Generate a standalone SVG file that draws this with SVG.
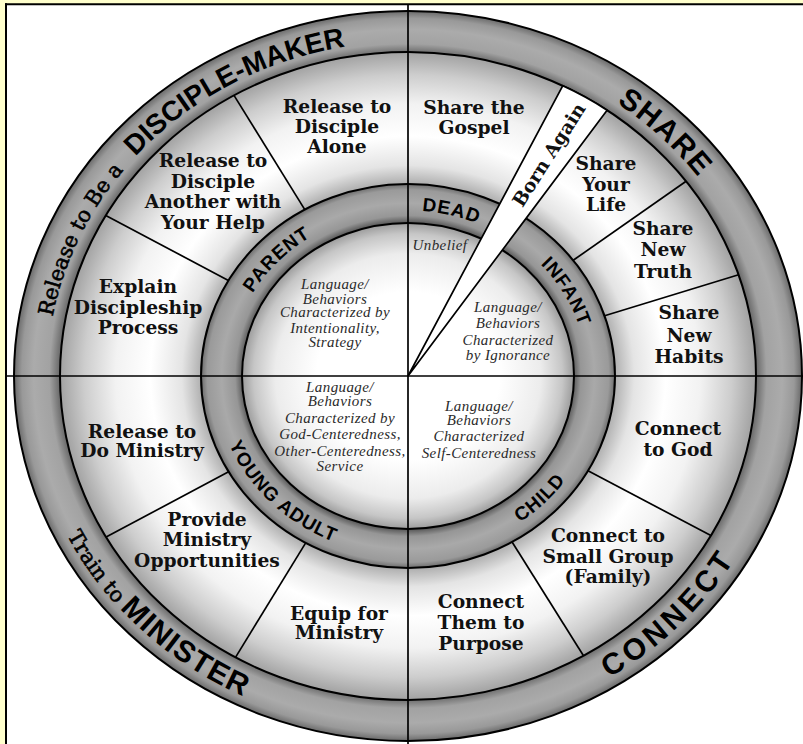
<svg xmlns="http://www.w3.org/2000/svg" width="803" height="744" viewBox="0 0 803 744">
<style>
.sec{font-family:"DejaVu Serif","Liberation Serif",serif;font-weight:bold;font-size:18.7px;fill:#111;text-anchor:middle}
.it{font-family:"Liberation Serif",serif;font-style:italic;font-size:15px;fill:#2a2a2a;text-anchor:middle;letter-spacing:0.4px}
.cap{font-family:"Liberation Sans",Arial,sans-serif;font-weight:bold;fill:#000}
.ser{font-family:"DejaVu Serif","Liberation Serif",serif;font-size:21px;fill:#000;stroke:#000;stroke-width:0.6px}
.ring{font-family:"Liberation Sans",Arial,sans-serif;font-weight:bold;font-size:19px;fill:#000;letter-spacing:0.9px}
.div{stroke:#000;stroke-width:1.7;fill:none}
.edge{stroke:#000;stroke-width:2}
</style>
<defs>
<radialGradient id="gOuter">
<stop offset="0.86" stop-color="#888"/>
<stop offset="0.883" stop-color="#666"/>
<stop offset="0.91" stop-color="#a2a2a2"/>
<stop offset="0.95" stop-color="#ababab"/>
<stop offset="0.98" stop-color="#999"/>
<stop offset="1" stop-color="#6a6a6a"/>
</radialGradient>
<radialGradient id="gRing">
<stop offset="0.78" stop-color="#777"/>
<stop offset="0.802" stop-color="#5e5e5e"/>
<stop offset="0.835" stop-color="#969696"/>
<stop offset="0.9" stop-color="#a9a9a9"/>
<stop offset="0.97" stop-color="#9a9a9a"/>
<stop offset="1" stop-color="#6c6c6c"/>
</radialGradient>
<radialGradient id="gMid">
<stop offset="0.595" stop-color="#b0b0b0"/>
<stop offset="0.65" stop-color="#e4e4e4"/>
<stop offset="0.74" stop-color="#ffffff"/>
<stop offset="0.84" stop-color="#f2f2f2"/>
<stop offset="0.93" stop-color="#cdcdcd"/>
<stop offset="1" stop-color="#a2a2a2"/>
</radialGradient>
<radialGradient id="gInner">
<stop offset="0" stop-color="#fff"/>
<stop offset="0.55" stop-color="#fff"/>
<stop offset="0.8" stop-color="#ececec"/>
<stop offset="0.93" stop-color="#c6c6c6"/>
<stop offset="1" stop-color="#9c9c9c"/>
</radialGradient>
<path id="pOT" d="M47 376 A361 334.5 0 0 1 769 376"/>
<path id="pOB" d="M26.5 376 A381.5 355 0 0 0 789.5 376"/>
<path id="pIT" d="M228.5 376 A179.5 165.5 0 0 1 587.5 376"/>
<path id="pIB" d="M214.5 376 A193.5 179.5 0 0 0 601.5 376"/>
</defs>

<rect x="0" y="0" width="803" height="744" fill="#ffffcc"/>
<rect x="6" y="4.3" width="797" height="740" fill="#fff"/>
<line x1="5" y1="4.3" x2="803" y2="4.3" stroke="#000" stroke-width="2"/>
<line x1="6" y1="3.3" x2="6" y2="744" stroke="#000" stroke-width="2"/>

<g id="outer-band">
<ellipse cx="408" cy="376" rx="394" ry="365" fill="url(#gOuter)" class="edge"/>
</g>
<g id="middle-region">
<ellipse cx="408" cy="376" rx="348" ry="324" fill="url(#gMid)" class="edge"/>
</g>
<g id="stage-ring">
<ellipse cx="408" cy="376" rx="207" ry="192" fill="url(#gRing)" class="edge"/>
</g>
<g id="inner-disc">
<ellipse cx="408" cy="376" rx="166" ry="153" fill="url(#gInner)" class="edge"/>
</g>

<g id="connectors">
<line class="div" x1="234.0" y1="95.4" x2="304.8" y2="209.6"/>
<line class="div" x1="105.8" y1="215.4" x2="228.4" y2="280.5"/>
<line class="div" x1="686.1" y1="181.2" x2="573.2" y2="260.3"/>
<line class="div" x1="738.6" y1="274.8" x2="604.6" y2="315.8"/>
<line class="div" x1="710.9" y1="535.5" x2="588.0" y2="470.8"/>
<line class="div" x1="583.5" y1="655.8" x2="512.1" y2="542.0"/>
<line class="div" x1="106.1" y1="537.1" x2="228.6" y2="471.7"/>
<line class="div" x1="235.5" y1="657.4" x2="305.7" y2="542.9"/>
<path d="M408 376 L562.7 85.8 A348 324 0 0 1 607.1 110.2 Z" fill="#fff" stroke="#000" stroke-width="1.7"/>
<line class="div" x1="408" y1="4" x2="408" y2="744"/>
<line class="div" x1="6" y1="376" x2="803" y2="376"/>
</g>

<g id="band-labels">
<text class="ser"><textPath href="#pOT" startOffset="13%" text-anchor="middle">Release to Be a</textPath></text>
<text class="cap" font-size="28"><textPath href="#pOT" startOffset="33.2%" text-anchor="middle">DISCIPLE-MAKER</textPath></text>
<text class="cap" font-size="30" letter-spacing="1.3"><textPath href="#pOT" startOffset="75.3%" text-anchor="middle">SHARE</textPath></text>
<text class="ser"><textPath href="#pOB" startOffset="18%" text-anchor="middle">Train to</textPath></text>
<text class="cap" font-size="30" letter-spacing="1.3"><textPath href="#pOB" startOffset="28.8%" text-anchor="middle">MINISTER</textPath></text>
<text class="cap" font-size="30" letter-spacing="4"><textPath href="#pOB" startOffset="75.8%" text-anchor="middle">CONNECT</textPath></text>
</g>

<g id="stage-labels">
<text class="ring"><textPath href="#pIT" startOffset="23.7%" text-anchor="middle">PARENT</textPath></text>
<text class="ring"><textPath href="#pIT" startOffset="57.9%" text-anchor="middle">DEAD</textPath></text>
<text class="ring"><textPath href="#pIT" startOffset="83.9%" text-anchor="middle">INFANT</textPath></text>
<text class="ring"><textPath href="#pIB" startOffset="75.55%" text-anchor="middle">CHILD</textPath></text>
<text class="ring"><textPath href="#pIB" startOffset="24.55%" text-anchor="middle">YOUNG ADULT</textPath></text>
</g>

<g id="born-again">
<text class="sec" font-size="20" transform="translate(548.5 154.5) rotate(-57.5)" y="7">Born Again</text>
</g>

<g id="n-release-alone"><text class="sec"><tspan x="337" y="113">Release to</tspan><tspan x="337" y="133">Disciple</tspan><tspan x="337" y="153">Alone</tspan></text></g>
<g id="n-release-help"><text class="sec"><tspan x="213" y="167">Release to</tspan><tspan x="213" y="188">Disciple</tspan><tspan x="213" y="208">Another with</tspan><tspan x="213" y="229">Your Help</tspan></text></g>
<g id="n-explain"><text class="sec"><tspan x="138" y="293">Explain</tspan><tspan x="138" y="314">Discipleship</tspan><tspan x="138" y="334">Process</tspan></text></g>

<g id="n-gospel"><text class="sec"><tspan x="474" y="114">Share the</tspan><tspan x="474" y="134">Gospel</tspan></text></g>
<g id="n-life"><text class="sec"><tspan x="606" y="170">Share</tspan><tspan x="606" y="191">Your</tspan><tspan x="606" y="211">Life</tspan></text></g>
<g id="n-truth"><text class="sec"><tspan x="663" y="235">Share</tspan><tspan x="663" y="256">New</tspan><tspan x="663" y="278">Truth</tspan></text></g>
<g id="n-habits"><text class="sec"><tspan x="689" y="319">Share</tspan><tspan x="689" y="342">New</tspan><tspan x="689" y="363">Habits</tspan></text></g>

<g id="n-do-ministry"><text class="sec"><tspan x="142" y="438">Release to</tspan><tspan x="142" y="457">Do Ministry</tspan></text></g>
<g id="n-opportunities"><text class="sec"><tspan x="207" y="526">Provide</tspan><tspan x="207" y="546">Ministry</tspan><tspan x="207" y="567">Opportunities</tspan></text></g>
<g id="n-equip"><text class="sec"><tspan x="339" y="620">Equip for</tspan><tspan x="339" y="639">Ministry</tspan></text></g>

<g id="n-god"><text class="sec"><tspan x="678" y="435">Connect</tspan><tspan x="678" y="456">to God</tspan></text></g>
<g id="n-group"><text class="sec"><tspan x="608" y="542">Connect to</tspan><tspan x="608" y="563">Small Group</tspan><tspan x="608" y="583">(Family)</tspan></text></g>
<g id="n-purpose"><text class="sec"><tspan x="481" y="608">Connect</tspan><tspan x="481" y="629">Them to</tspan><tspan x="481" y="650">Purpose</tspan></text></g>

<g id="q-parent"><text class="it"><tspan x="335" y="289">Language/</tspan><tspan x="335" y="304">Behaviors</tspan><tspan x="335" y="317">Characterized by</tspan><tspan x="335" y="333">Intentionality,</tspan><tspan x="335" y="347">Strategy</tspan></text></g>
<g id="q-dead"><text class="it"><tspan x="440" y="250">Unbelief</tspan></text></g>
<g id="q-infant"><text class="it"><tspan x="508" y="312">Language/</tspan><tspan x="508" y="328">Behaviors</tspan><tspan x="508" y="345">Characterized</tspan><tspan x="508" y="360">by Ignorance</tspan></text></g>
<g id="q-young"><text class="it"><tspan x="340" y="392">Language/</tspan><tspan x="340" y="406">Behaviors</tspan><tspan x="340" y="423">Characterized by</tspan><tspan x="340" y="439">God-Centeredness,</tspan><tspan x="340" y="456">Other-Centeredness,</tspan><tspan x="340" y="471">Service</tspan></text></g>
<g id="q-child"><text class="it"><tspan x="479" y="411">Language/</tspan><tspan x="479" y="425">Behaviors</tspan><tspan x="479" y="441">Characterized</tspan><tspan x="479" y="458">Self-Centeredness</tspan></text></g>
</svg>
